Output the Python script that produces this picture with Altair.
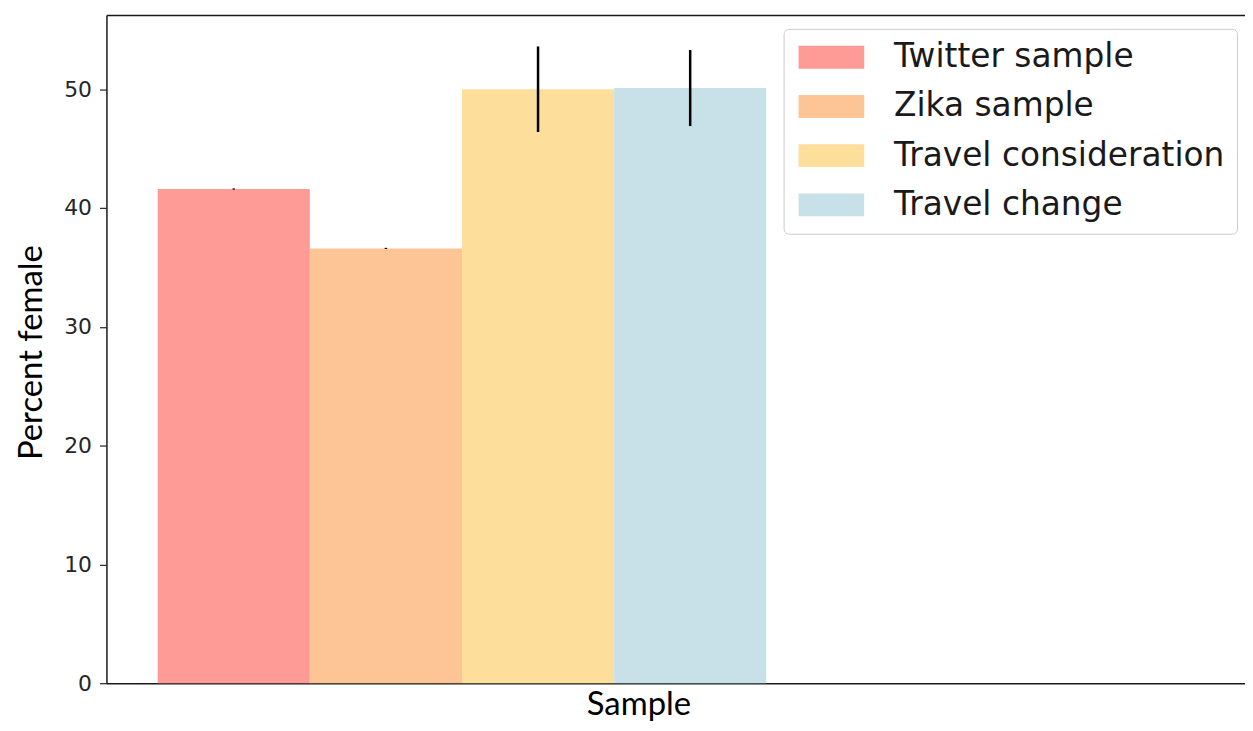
import altair as alt
import pandas as pd

samples = ["Twitter sample", "Zika sample", "Travel consideration", "Travel change"]
percent_female = [41.6, 36.6, 50.0, 50.1]
error = [0.05, 0.05, 3.6, 3.2]
colors = ["#FF9B96", "#FDC596", "#FDDE9B", "#C8E1E8"]

df = pd.DataFrame({"sample": samples, "pct": percent_female, "err": error})
df["pos"] = list(range(len(samples)))
df["pos2"] = df["pos"] + 1
df["mid"] = df["pos"] + 0.5
df["lo"] = df["pct"] - df["err"]
df["hi"] = df["pct"] + df["err"]
df["zero"] = 0

xscale = alt.Scale(domain=[-0.337, 7.147], nice=False, zero=False)
yscale = alt.Scale(domain=[0, 56.25], nice=False)

bars = alt.Chart(df).mark_bar(opacity=1, strokeWidth=0).encode(
    x=alt.X("pos:Q", scale=xscale,
            axis=alt.Axis(title="Sample", orient="bottom", labels=False, ticks=False,
                          grid=False, titleX=535, titleY=31, titleBaseline="alphabetic",
                          titleAlign="center")),
    x2="pos2:Q",
    y=alt.Y("pct:Q", scale=yscale,
            axis=alt.Axis(title="Percent female", values=[0, 10, 20, 30, 40, 50],
                          grid=False, tickSize=7, labelPadding=8,
                          titleAngle=270, titleX=-65, titleY=339,
                          titleAlign="center", titleBaseline="alphabetic")),
    y2="zero:Q",
    color=alt.Color("sample:N", sort=samples,
                    scale=alt.Scale(domain=samples, range=colors),
                    legend=alt.Legend(title=None, orient="none", legendX=681, legendY=14,
                                      symbolType="M-1.17,-1H4.57V1H-1.17Z", symbolSize=529,
                                      symbolStrokeWidth=0, symbolOpacity=1,
                                      labelFont="DejaVu Sans", labelFontSize=33,
                                      labelColor="#1a1a1a", labelOffset=66,
                                      labelLimit=600, rowPadding=15.5, padding=12,
                                      fillColor="white", strokeColor="#cccccc",
                                      cornerRadius=5)),
)

errbars = alt.Chart(df).mark_rule(color="black", strokeWidth=2.5).encode(
    x=alt.X("mid:Q", scale=xscale,
            axis=alt.Axis(title=None, orient="top", labels=False, ticks=False, grid=False)),
    y="lo:Q",
    y2="hi:Q",
)

chart = (bars + errbars).resolve_axis(x="independent").properties(
    width=1145, height=672,
    autosize=alt.AutoSizeParams(type="none"),
    padding={"left": 99, "top": 5, "right": 0, "bottom": 38},
).configure(
    background="white"
).configure_view(
    strokeWidth=0
).configure_axis(
    domainColor="#1a1a1a", domainWidth=1.5, tickColor="#333333", tickWidth=1.3,
    labelFont="DejaVu Sans", labelFontSize=22, labelColor="#262626",
    titleFont="Lato", titleFontSize=33, titleFontWeight="normal", titleColor="#000000",
)

chart.save("out.html", embed_options={"renderer": "svg", "actions": False})
